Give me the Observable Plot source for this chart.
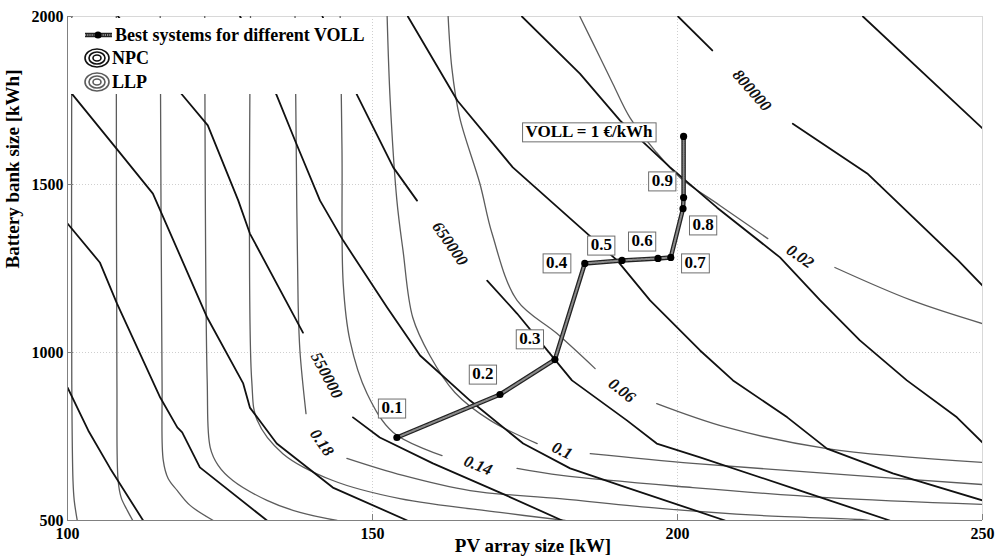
<!DOCTYPE html>
<html>
<head>
<meta charset="utf-8">
<script src="https://cdn.jsdelivr.net/npm/d3@7"></script>
<script src="https://cdn.jsdelivr.net/npm/@observablehq/plot@0.6"></script>
<style>
  html, body { margin: 0; padding: 0; background: #fff; }
  #wrap { position: relative; width: 997px; height: 560px; font-family: "Liberation Serif", "Times New Roman", serif; }
  #legend { position: absolute; left: 68px; top: 18px; }
</style>
</head>
<body>
<div id="wrap"></div>
<script>
// ---------- axes ----------
const xTicks = [100, 150, 200, 250];
const yTicks = [500, 1000, 1500, 2000];
const xTitle = "PV array size [kW]";
const yTitle = "Battery bank size [kWh]";

// ---------- NPC contours (€) : [PV kW, battery kWh], null = label gap ----------
const npc400k = [[100,896],[103.4,768],[107.0,655],[112.4,500]];
const npc450k = [[100,1384],[105.3,1268],[108.1,1146],[115.2,866],[118.0,777],[118.8,762],[121.7,658],[132.7,500]];
const npc500k = [[100,1786],[108.3,1601],[114.0,1473],[122.9,1104],[128.8,908],[129.9,836],[134.3,729],[143.5,598],[155.7,500]];
const npc550k = [[108.3,2000],[118.9,1765],[123.0,1676],[128.0,1452],[129.9,1354],[138.6,1059],null,[146.8,807],[151.2,747],[159.9,670],[170.9,583],[181.1,500]];
const npc600k = [[128.3,2000],[134.3,1765],[137.3,1631],[141.4,1452],[145.2,1333],[152.4,1134],[157.8,991],[166.0,857],[174.7,729],[182.4,655],[191.7,598],[207.8,500]];
const npc650k = [[141.8,2000],[147.5,1765],[153.4,1551],[157.3,1452],null,[168.8,1214],[173.7,1116],[179.9,979],[182.7,917],[191.7,798],[196.6,729],[203.7,688],[220.1,589],[234.8,500]];
const npc700k = [[155.8,2000],[163.9,1750],[173.0,1551],[185.2,1354],[190.1,1274],[195.5,1155],[203.7,1006],[209.1,917],[218.0,807],[224.5,714],[235.3,640],[250,560]];
const npc750k = [[174.5,2000],[184.0,1830],[190.6,1690],[198.8,1551],[206.5,1431],[216.8,1283],[223.4,1155],[229.9,1036],[237.6,917],[245.8,807],[250,732]];
const npc800k = [[200.1,2000],[205.7,1899],null,[218.9,1681],[231.1,1533],[246.0,1274],[250,1199]];
const npc850k = [[230.4,2000],[250,1667]];

// ---------- LLP contours (-) ----------
const llp038 = [[100.7,2000],[100.7,917],[100.9,619],[101.1,560],[101.6,500]];
const llp034 = [[108.0,2000],[108.1,917],[108.3,619],[108.8,568],[109.8,530],[110.7,500]];
const llp030 = [[115.2,2000],[115.5,917],[115.7,679],[116.5,625],[118.0,589],[120.1,545],[123.9,500]];
const llp026 = [[122.5,2000],[122.9,917],[123.4,717],[124.7,664],[127.1,619],[132.7,560],[138.1,524],[144.2,500]];
const llp022 = [[130.0,2000],[130.2,917],[131.1,798],[135.3,699],[143.5,619],[154.5,565],[170.9,524],[181.6,500]];
const llp018 = [[137.3,2000],[137.5,1601],[137.8,1155],[138.1,1006],[139.1,818],null,[145.8,685],[155.0,634],[166.0,589],[180.7,565],[197.1,536],[213.5,515],[229.9,503],[231.5,500]];
const llp014 = [[144.7,2000],[145.0,1601],[145.2,1205],[146.3,1036],[149.1,878],[153.4,762],[161.4,693],null,[173.7,655],[181.0,634],[202.5,598],[224.5,568],[250,548]];
const llp010 = [[152.4,2000],[152.9,1750],[154.0,1452],[155.0,1304],[156.6,1104],[159.4,991],[163.5,881],[169.3,798],[177.0,729],null,[185.7,699],[202.5,670],[224.5,640],[250,607]];
const llp006 = [[162.4,2000],[163.0,1848],[164.3,1699],[167.6,1503],[169.6,1354],[173.7,1155],[180.2,1057],[186.5,952],null,[196.6,848],[208.1,777],[224.5,714],[250,673]];
const llp002 = [[184.0,2000],[187.3,1878],[189.4,1800],[192.2,1699],[196.3,1601],[200.4,1521],[207.0,1437],[214.8,1339],null,[225.8,1253],[238.4,1155],[250,1086]];

// ---------- contour labels ----------
const contourLabelText = ["550000","650000","800000","0.02","0.06","0.1","0.14","0.18"];
const contourLabelPV   = [142.5, 162.7, 212.2, 220.1, 190.9, 181.1, 167.3, 141.7];
const contourLabelBatt = [932, 1324, 1780, 1286, 887, 708, 664, 732];

// ---------- best systems for different VOLL ----------
const vollValues = ["0.1","0.2","0.3","0.4","0.5","0.6","0.7","0.8","0.9","VOLL = 1 €/kWh"];
const bestPV     = [154.0, 170.9, 179.9, 184.8, 190.9, 196.8, 198.9, 200.9, 201.0, 201.0];
const bestBatt   = [747, 875, 979, 1265, 1274, 1280, 1283, 1428, 1461, 1643];
const vollLabelPV   = [153.2, 168.1, 175.8, 180.2, 187.5, 194.2, 202.9, 204.2, 197.5, 185.5];
const vollLabelBatt = [836, 937, 1042, 1268, 1321, 1333, 1268, 1381, 1512, 1658];

// ---------- build tables ----------
function rows(lines) {
  const out = [];
  lines.forEach(([level, pts]) => {
    pts.forEach(p => out.push(p ? {x: p[0], y: p[1], level} : {x: NaN, y: NaN, level}));
  });
  return out;
}
const npcRows = rows([[400000,npc400k],[450000,npc450k],[500000,npc500k],[550000,npc550k],[600000,npc600k],
                      [650000,npc650k],[700000,npc700k],[750000,npc750k],[800000,npc800k],[850000,npc850k]]);
const llpRows = rows([[0.38,llp038],[0.34,llp034],[0.30,llp030],[0.26,llp026],[0.22,llp022],
                      [0.18,llp018],[0.14,llp014],[0.10,llp010],[0.06,llp006],[0.02,llp002]]);
const labelAngles = {"550000":62,"650000":55,"800000":49,"0.02":35,"0.06":38,"0.1":25,"0.14":22,"0.18":55};
const contourLabels = contourLabelText.map((t, i) => ({text: t, x: contourLabelPV[i], y: contourLabelBatt[i], angle: labelAngles[t]}));
const best = vollValues.map((v, i) => ({voll: v, x: bestPV[i], y: bestBatt[i]}));
const vollLabels = vollValues.map((v, i) => ({text: v, x: vollLabelPV[i], y: vollLabelBatt[i]}));

const serif = "'Liberation Serif', 'Times New Roman', serif";
const fmt = d => String(d);

const chart = Plot.plot({
  width: 997,
  height: 560,
  marginTop: 16,
  marginBottom: 40,
  marginLeft: 67,
  marginRight: 15,
  style: {fontFamily: serif, fontWeight: "bold", fontSize: "16px", color: "#000", background: "#fff", overflow: "visible"},
  x: {domain: [100, 250]},
  y: {domain: [500, 2000]},
  marks: [
    Plot.gridX([150, 200], {stroke: "#cfcfcf", strokeOpacity: 1, strokeDasharray: "1,2"}),
    Plot.gridY([1000, 1500], {stroke: "#cfcfcf", strokeOpacity: 1, strokeDasharray: "1,2"}),
    Plot.ruleX([250], {stroke: "#d8d8d8"}),
    Plot.ruleY([2000], {stroke: "#d8d8d8"}),
    Plot.line(llpRows, {x: "x", y: "y", z: "level", stroke: "#5c5c5c", strokeWidth: 1.3, curve: "catmull-rom", clip: true}),
    Plot.line(npcRows, {x: "x", y: "y", z: "level", stroke: "#111", strokeWidth: 1.8, clip: true}),
    Plot.text(contourLabels, {x: "x", y: "y", text: "text", rotate: "angle", fontStyle: "italic", fontWeight: "bold", fontSize: 16.5, fill: "#111"}),
    Plot.line(best, {x: "x", y: "y", stroke: "#222", strokeWidth: 4.5}),
    Plot.line(best, {x: "x", y: "y", stroke: "#8a8a8a", strokeWidth: 2, strokeDasharray: "1.2,1"}),
    Plot.dot(best, {x: "x", y: "y", r: 3.6, fill: "#000", stroke: "none"}),
    Plot.text(vollLabels, {x: "x", y: "y", text: "text", fontSize: 17, fontWeight: "bold", fill: "#000"}),
    Plot.ruleX([100], {stroke: "#808080"}),
    Plot.ruleY([500], {stroke: "#808080"}),
    Plot.ruleX(xTicks, {stroke: "#808080", insetTop: 498}),
    Plot.ruleY(yTicks, {stroke: "#808080", insetRight: 909}),
    Plot.axisX(xTicks, {tickSize: 0, tickPadding: 7, fontSize: 16, fontWeight: "bold", label: null, tickFormat: fmt}),
    Plot.axisY(yTicks, {tickSize: 0, tickPadding: 4, fontSize: 16, fontWeight: "bold", label: null, tickFormat: fmt}),
    Plot.text([xTitle], {frameAnchor: "bottom", dy: 31, dx: 8, fontSize: 19, fontWeight: "bold", fill: "#000"}),
    Plot.text([yTitle], {frameAnchor: "left", dx: -55, rotate: -90, fontSize: 19, fontWeight: "bold", fill: "#000"})
  ]
});

const wrap = document.getElementById("wrap");
wrap.appendChild(chart);

// boxes behind the VOLL labels
const gVoll = Array.from(chart.querySelectorAll("g")).find(g => {
  const ts = g.querySelectorAll(":scope > text");
  return ts.length === vollValues.length && g.textContent.includes("VOLL = 1");
});
if (gVoll) {
  gVoll.querySelectorAll(":scope > text").forEach(function (el) {
    const b = el.getBBox();
    const r = document.createElementNS("http://www.w3.org/2000/svg", "rect");
    r.setAttribute("x", b.x - 3);
    r.setAttribute("y", b.y + 1);
    r.setAttribute("width", b.width + 6);
    r.setAttribute("height", b.height);
    r.setAttribute("fill", "#fff");
    r.setAttribute("stroke", "#6e6e6e");
    r.setAttribute("stroke-width", "1");
    const t = el.getAttribute("transform");
    if (t) r.setAttribute("transform", t);
    gVoll.insertBefore(r, el);
  });
}

// legend (overlay, top-left inside the frame)
const lg = d3.select(wrap).append("svg").attr("id", "legend").attr("width", 300).attr("height", 76)
  .style("font-family", serif).style("font-weight", "bold").style("font-size", "18px");
lg.append("rect").attr("width", 300).attr("height", 76).attr("fill", "#fff");
lg.append("line").attr("x1", 17).attr("x2", 44).attr("y1", 17).attr("y2", 17).attr("stroke", "#222").attr("stroke-width", 4.5);
lg.append("line").attr("x1", 17).attr("x2", 44).attr("y1", 17).attr("y2", 17).attr("stroke", "#8a8a8a").attr("stroke-width", 2).attr("stroke-dasharray", "1.2,1");
lg.append("circle").attr("cx", 30).attr("cy", 17).attr("r", 3.6).attr("fill", "#000");
lg.append("text").attr("x", 47).attr("y", 23).text("Best systems for different VOLL");
[[40, "#111", "NPC"], [64, "#5c5c5c", "LLP"]].forEach(([cy, col, name]) => {
  [[12, 9], [8, 6], [4, 3]].forEach(([rx, ry]) => {
    lg.append("ellipse").attr("cx", 29).attr("cy", cy).attr("rx", rx).attr("ry", ry)
      .attr("fill", "none").attr("stroke", col).attr("stroke-width", 1.6);
  });
  lg.append("text").attr("x", 44).attr("y", cy + 6).text(name);
});
</script>
</body>
</html>
